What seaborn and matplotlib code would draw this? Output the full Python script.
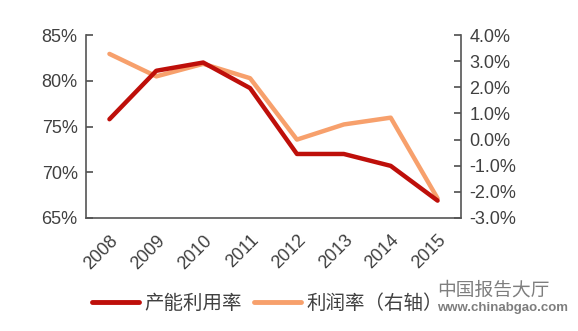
import matplotlib
matplotlib.use("Agg")
import matplotlib.pyplot as plt
import seaborn as sns
import pandas as pd
import numpy as np
from matplotlib.ticker import FuncFormatter, FixedLocator
from matplotlib.lines import Line2D

years = ["2008", "2009", "2010", "2011", "2012", "2013", "2014", "2015"]
capacity_util = [75.8, 81.1, 82.0, 79.2, 72.0, 72.0, 70.7, 66.9]
profit_margin = [3.28, 2.42, 2.90, 2.35, 0.0, 0.58, 0.84, -2.25]
left_ticks = [65, 70, 75, 80, 85]
right_ticks = [-3.0, -2.0, -1.0, 0.0, 1.0, 2.0, 3.0, 4.0]
series_names = ["产能利用率", "利润率（右轴）"]

sns.set_theme(style="white")
plt.rcParams['font.family'] = ['Liberation Sans', 'Noto Sans CJK SC', 'DejaVu Sans']

RED = "#BE0F0A"
ORANGE = "#F7A06C"
TXT = "#404040"
SPINE = "#555555"

df = pd.DataFrame({"x": np.arange(len(years)), "cap": capacity_util, "profit": profit_margin})

fig = plt.figure(figsize=(5.78, 3.31), dpi=100)
ax = fig.add_axes([0.1488, 0.3414, 0.7976 - 0.1488, 0.894 - 0.3414])
ax2 = ax.twinx()

sns.lineplot(data=df, x="x", y="cap", ax=ax, color=RED, lw=3.2, zorder=3)
sns.lineplot(data=df, x="x", y="profit", ax=ax2, color=ORANGE, lw=3.2, zorder=2)
ax.set_zorder(ax2.get_zorder() + 1)
ax.patch.set_visible(False)

ax.set_xlim(-0.5, len(years) - 0.5)
ax.set_ylim(65, 85)
ax2.set_ylim(-3.0, 4.0)

ax.set_xticks(np.arange(len(years)))
ax.set_xticklabels(years, rotation=45, ha="right", va="top", rotation_mode="anchor",
                   fontsize=13, color=TXT)
ax.tick_params(axis="x", which="major", length=0, pad=10)
ax.xaxis.set_minor_locator(FixedLocator(np.arange(0.5, len(years) - 0.5, 1)))
ax.tick_params(axis="x", which="minor", direction="in", length=5, color=SPINE, width=1)

ax.set_yticks(left_ticks)
ax.yaxis.set_major_formatter(FuncFormatter(lambda v, p: f"{v:.0f}%"))
ax.tick_params(axis="y", direction="in", length=5, color=SPINE, labelsize=13, labelcolor=TXT, pad=6)

ax2.set_yticks(right_ticks)
ax2.yaxis.set_major_formatter(FuncFormatter(lambda v, p: f"{v:.1f}%"))
ax2.tick_params(axis="y", direction="in", length=5, color=SPINE, labelsize=13, labelcolor=TXT, pad=6)

ax.set_xlabel("")
ax.set_ylabel("")
ax2.set_ylabel("")
ax2.set_xlabel("")

for a in (ax, ax2):
    for s in a.spines.values():
        s.set_visible(False)
ax.spines["left"].set_visible(True)
ax.spines["bottom"].set_visible(True)
ax2.spines["right"].set_visible(True)
for a, k in ((ax, "left"), (ax, "bottom"), (ax2, "right")):
    a.spines[k].set_color(SPINE)
    a.spines[k].set_linewidth(1.2)

handles = [Line2D([], [], color=RED, lw=3.5), Line2D([], [], color=ORANGE, lw=3.5)]
leg = fig.legend(handles, series_names, loc="center", bbox_to_anchor=(0.463, 0.083),
                 ncol=2, frameon=False, fontsize=14, handlelength=2.4,
                 handletextpad=0.3, columnspacing=0.6)
for t in leg.get_texts():
    t.set_color(TXT)

# watermark
fig.text(0.756, 0.125, "中国报告大厅", fontsize=13.5, color="#707070",
         family=['Noto Sans CJK SC', 'DejaVu Sans'], ha="left", va="center", alpha=0.9)
fig.text(0.756, 0.068, "www.chinabgao.com", fontsize=9.5, color="#707070",
         weight="bold", ha="left", va="center", alpha=0.9)

fig.savefig("out.png", dpi=100)
